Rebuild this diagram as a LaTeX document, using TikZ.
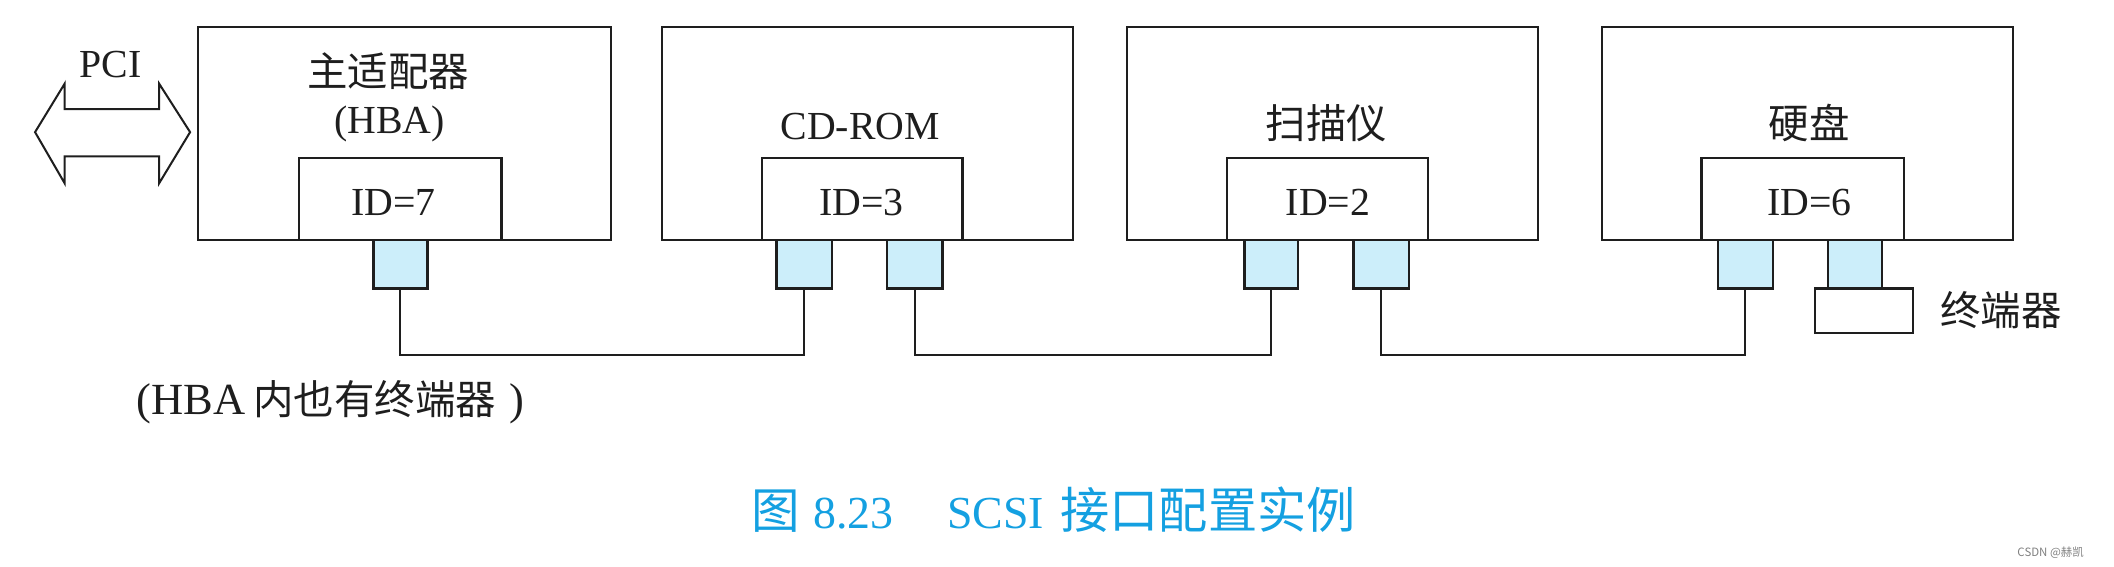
\documentclass[tikz,border=0pt]{standalone}
\usepackage{fontspec}
\setmainfont{Liberation Serif}
\newfontfamily\cjk{Noto Sans CJK SC}
\definecolor{portfill}{RGB}{204,238,250}
\definecolor{ink}{RGB}{30,30,30}
\definecolor{capblue}{RGB}{20,160,225}
\begin{document}
\begin{tikzpicture}[x=1pt,y=-1pt,
  box/.style={draw=ink,line width=1.7pt,inner sep=0pt,outer sep=0pt,anchor=north west,fill=white},
  port/.style={box,fill=portfill},
  wire/.style={draw=ink,line width=1.5pt},
  lbl/.style={inner sep=0pt,text=ink,font=\fontsize{29.5}{34}\selectfont},
  cjklbl/.style={inner sep=0pt,text=ink,font=\cjk\fontsize{30}{34}\selectfont}]
\useasboundingbox (0,0) rectangle (1568,420);

% device boxes
\node[box,minimum width=306pt,minimum height=158pt] (hba) at (147,20) {};
\node[box,minimum width=305pt,minimum height=158pt] (cd)  at (491,20) {};
\node[box,minimum width=305pt,minimum height=158pt] (sc)  at (836,20) {};
\node[box,minimum width=305pt,minimum height=158pt] (hd)  at (1188,20) {};

% ID boxes
\node[box,minimum width=150pt,minimum height=61pt] (hbaid) at (222,117) {};
\node[box,minimum width=149pt,minimum height=61pt] (cdid)  at (565,117) {};
\node[box,minimum width=149pt,minimum height=61pt] (scid)  at (910,117) {};
\node[box,minimum width=150pt,minimum height=61pt] (hdid)  at (1262,117) {};

% ports
\node[port,minimum width=40pt,minimum height=36pt] (hbaP) at (277,178) {};
\node[port,minimum width=41pt,minimum height=36pt] (cdA)  at (576,178) {};
\node[port,minimum width=41pt,minimum height=36pt] (cdB)  at (658,178) {};
\node[port,minimum width=40pt,minimum height=36pt] (scA)  at (923,178) {};
\node[port,minimum width=41pt,minimum height=36pt] (scB)  at (1004,178) {};
\node[port,minimum width=41pt,minimum height=36pt] (hdA)  at (1274,178) {};
\node[port,minimum width=40pt,minimum height=36pt] (hdB)  at (1356,178) {};
\node[box,minimum width=73pt,minimum height=33pt] (term) at (1346,214) {};

% cable
\coordinate (bus) at (0,263);
\draw[wire] (hbaP.south) -- (hbaP.south |- bus) -| (cdA.south);
\draw[wire] (cdB.south) -- (cdB.south |- bus) -| (scA.south);
\draw[wire] (scB.south) -- (scB.south |- bus) -| (hdA.south);

% PCI double arrow
\draw[ink,line width=1.5pt,line join=miter]
  (26,98) -- (48,62) -- (48,81) -- (118,81) -- (118,62) -- (141,98)
  -- (118,136) -- (118,116) -- (48,116) -- (48,136) -- cycle;
\node[lbl] (pci) at (82,48) {PCI};

% labels
\node[cjklbl] (hbaname) at (288,53) {主适配器};
\node[lbl] (hbaabbr) at (289,92) {(HBA)};
\node[lbl] (id7) at (292,150) {ID=7};
\node[lbl] (cdname) at (638,94) {CD-ROM};
\node[lbl] (id3) at (639,150) {ID=3};
\node[cjklbl] (scname) at (984,91) {扫描仪};
\node[lbl] (id2) at (985,150) {ID=2};
\node[cjklbl] (hdname) at (1342,91) {硬盘};
\node[lbl] (id6) at (1342,150) {ID=6};
\node[cjklbl] (termname) at (1484,230) {终端器};
\node[inner sep=0pt,text=ink,anchor=west,font=\fontsize{33}{38}\selectfont] (note) at (101,298)
  {(HBA\hspace{6pt}{\cjk\fontsize{30}{34}\selectfont 内也有终端器}\hspace{10pt})};

% caption
\node[inner sep=0pt,anchor=west,text=capblue,font=\fontsize{34}{40}\selectfont] (cap) at (557,378)
  {{\cjk\fontsize{36}{40}\selectfont 图}\hspace{10pt}8.23\hspace{40pt}SCSI\hspace{12pt}{\cjk\fontsize{36.5}{40}\selectfont 接口配置实例}};

% watermark
\node[inner sep=0pt,text=gray,font=\cjk\fontsize{8.5}{10}\selectfont] (wm) at (1521,410) {CSDN @赫凯};
\end{tikzpicture}
\end{document}
